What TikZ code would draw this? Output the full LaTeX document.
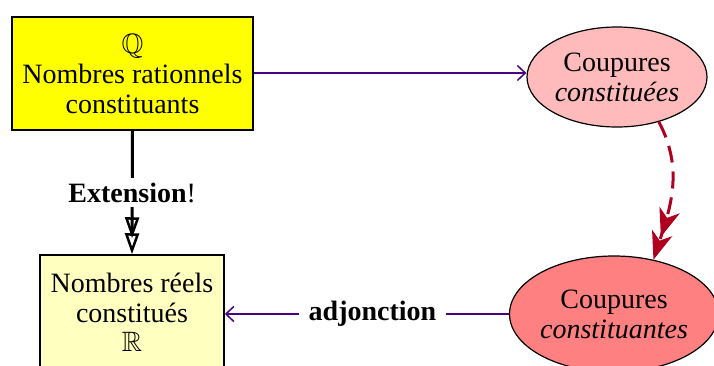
\documentclass[tikz,border=0pt]{standalone}
\usepackage{amssymb}
\usepackage{fontspec}
\setmainfont{Liberation Serif}
\usetikzlibrary{arrows.meta,shapes.geometric}
\definecolor{topyellow}{RGB}{255,255,0}
\definecolor{lowyellow}{RGB}{255,255,192}
\definecolor{lightpink}{RGB}{255,187,187}
\definecolor{salmon}{RGB}{255,128,128}
\definecolor{indigoline}{RGB}{75,0,130}
\definecolor{darkred}{RGB}{176,0,32}
\tikzset{
  txt/.style={font=\fontsize{28}{30}\selectfont, align=center, inner sep=0pt},
  boxnode/.style={txt, draw=black, line width=1.5pt},
  ellnode/.style={txt, draw=black, ellipse, line width=1.2pt},
  conn/.style={draw=indigoline, line width=1.5pt, -{Straight Barb[length=8pt,width=15pt,line width=1.5pt]}},
}
\begin{document}
\begin{tikzpicture}[x=1pt,y=-1pt]
\clip (0,0) rectangle (714,365);
\fill[white] (0,0) rectangle (714,365);
\node[boxnode, fill=topyellow, minimum width=241pt, minimum height=113pt] (q) at (132.5,73.5)
  {$\mathbb{Q}$\\Nombres rationnels\\constituants};
\node[boxnode, fill=lowyellow, minimum width=184pt, minimum height=114pt] (r) at (132,312)
  {Nombres réels\\constitués\\[-1pt]$\mathbb{R}$};
\node[ellnode, fill=lightpink, minimum width=180pt, minimum height=100pt] (c1) at (617,77)
  {Coupures\\\textit{constituées}};
\node[ellnode, fill=salmon, minimum width=196pt, minimum height=116pt] (c2) at (614,314)
  {Coupures\\\textit{constituantes}};
\draw[conn] (q.east |- 0,73) -- (c1.west |- 0,73);
\draw[conn] (c2.west) -- node[txt, fill=white, pos=0.48, inner xsep=10pt, inner ysep=4pt] (adj) {\textbf{adjonction}} (r.east |- c2.west);
\draw[line width=3pt, -{Triangle[open,length=21pt,width=14pt,line width=2.5pt,sep=-5pt] Triangle[open,length=21pt,width=14pt,line width=2.5pt]}]
  (q.south) -- node[txt, fill=white, pos=0.5, inner ysep=5pt] (ext) {\textbf{Extension}!} (r.north);
\draw[darkred, line width=3pt, dash pattern=on 17pt off 9pt, -{Stealth[length=28pt,width=21pt,inset=8pt,sep=-4pt] Stealth[length=28pt,width=21pt,inset=8pt]}]
  (c1.-47) to[out=-62, in=72] (c2.54);
\end{tikzpicture}
\end{document}
